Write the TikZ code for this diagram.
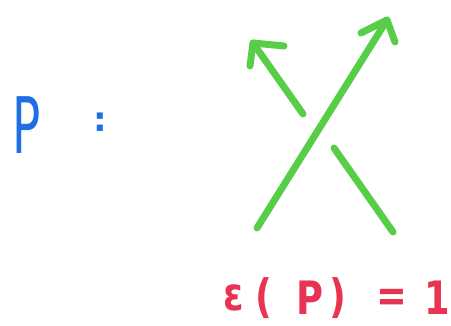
\documentclass[tikz,border=0pt]{standalone}
\usepackage{fontspec}
\setmainfont{DejaVu Sans}
\definecolor{knotgreen}{RGB}{88,206,72}
\definecolor{penblue}{RGB}{30,110,230}
\definecolor{penred}{RGB}{232,52,82}
\begin{document}
\begin{tikzpicture}[x=1pt,y=-1pt,
  strand/.style={draw=knotgreen,line width=7pt,line cap=round,line join=round},
  bluetext/.style={text=penblue,inner sep=0pt,anchor=center},
  redtext/.style={text=penred,inner sep=0pt,anchor=center,font=\fontsize{46}{46}\selectfont\bfseries}]
\useasboundingbox (0,0) rectangle (451,326);
% coordinates
\coordinate (a1) at (257,228);
\coordinate (a2) at (387,20);
\coordinate (a2l) at (361,33);
\coordinate (a2r) at (395,42);
\coordinate (b1) at (303,114);
\coordinate (b2) at (253,43);
\coordinate (b2l) at (250,66);
\coordinate (b2r) at (284,46);
\coordinate (c1) at (334,148);
\coordinate (c2) at (393,232);
% strands
\draw[strand] (a1) -- (a2);
\draw[strand] (a2l) -- (a2) -- (a2r);
\draw[strand] (b1) -- (b2);
\draw[strand] (b2l) -- (b2) -- (b2r);
\draw[strand] (c1) -- (c2);
% labels
\node[bluetext,font=\fontsize{78}{78}\selectfont,xscale=0.6] (p) at (27,125) {P};
\node[bluetext,font=\fontsize{34}{34}\selectfont\bfseries] (colon) at (100,122) {:};
\node[redtext,xscale=0.8] (eps) at (234,298) {ε};
\node[redtext,xscale=0.8] (lp) at (264,298) {(};
\node[redtext,xscale=0.8] (pp) at (310,298) {P};
\node[redtext,xscale=0.8] (rp) at (338,298) {)};
\node[redtext,xscale=0.8] (eq) at (392,300) {=};
\node[redtext,xscale=0.8] (one) at (437,298) {1};
\end{tikzpicture}
\end{document}
